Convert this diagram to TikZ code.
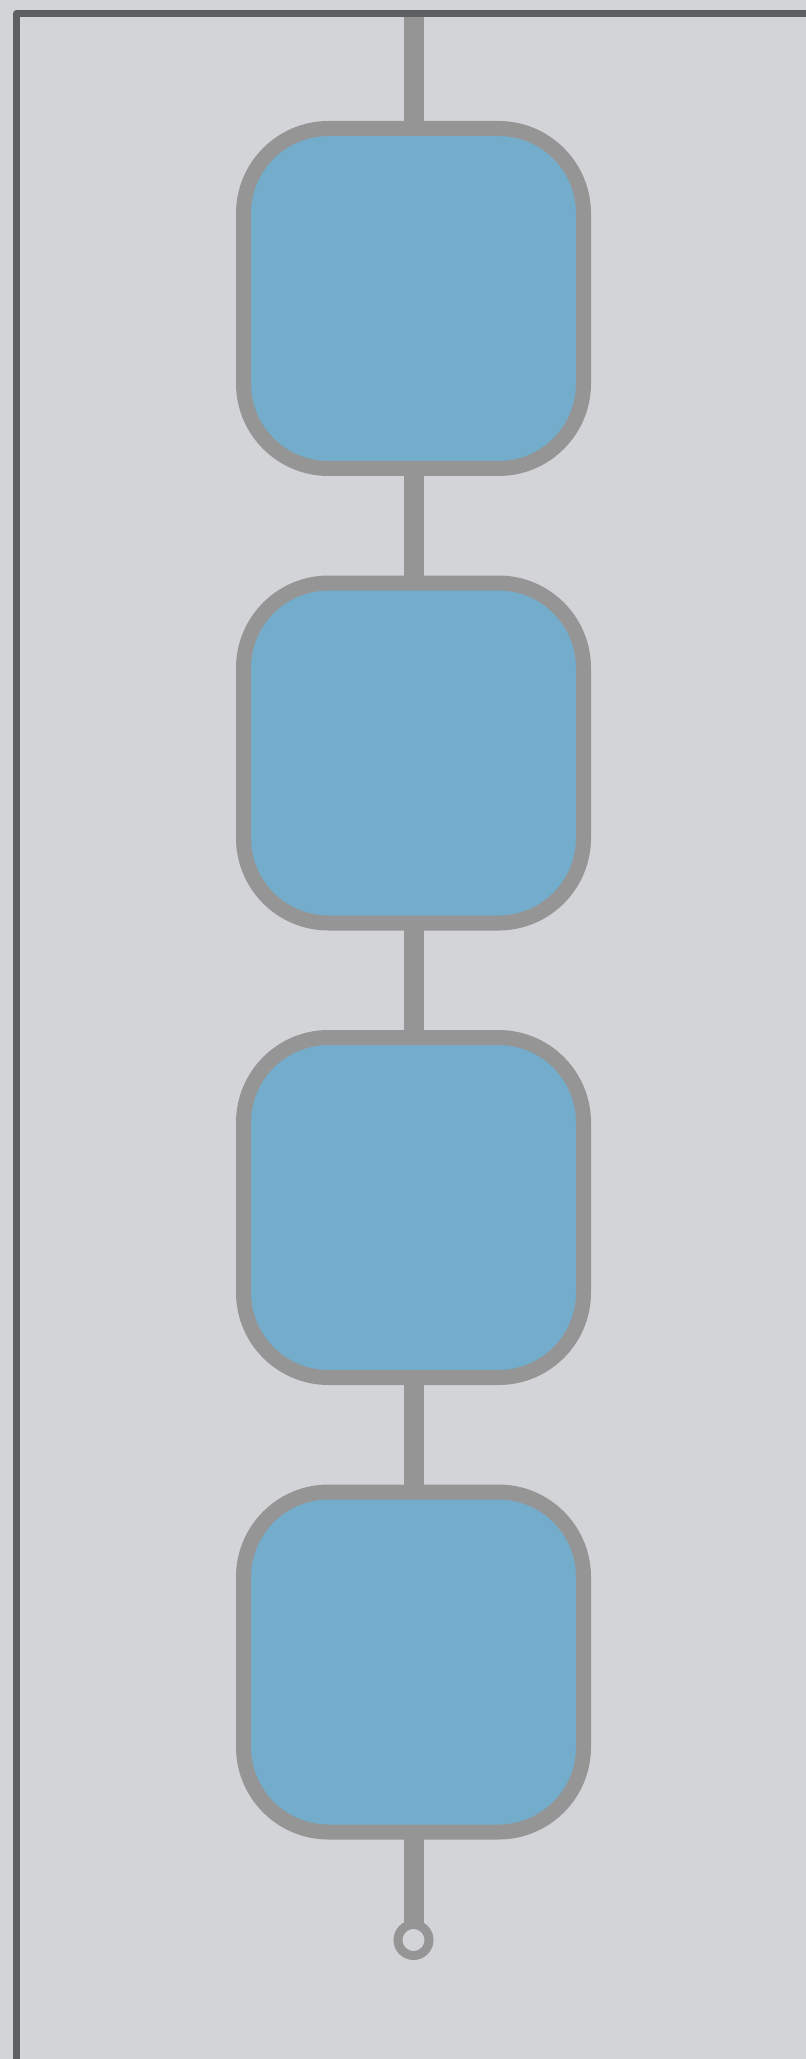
\documentclass[tikz,border=0pt]{standalone}
\usepackage{tikz}
\usetikzlibrary{positioning}
\definecolor{bg}{HTML}{D3D4D8}
\definecolor{edgegray}{HTML}{959595}
\definecolor{blockfill}{HTML}{73ADCB}
\definecolor{framegray}{HTML}{5E5F60}
\tikzset{
  >=latex,
}
\tikzstyle{block}=[rectangle,rounded corners=42.5pt,minimum width=170pt,minimum height=170pt,inner sep=0pt,outer sep=0pt,draw=edgegray,line width=7.5pt,fill=blockfill]
\tikzstyle{link}=[draw=edgegray,line width=10pt]
\tikzstyle{frame}=[draw=framegray,line width=3.25pt,line join=round]
\tikzstyle{terminal}=[circle,minimum size=15.5pt,inner sep=0pt,outer sep=0pt,draw=edgegray,line width=4.5pt,fill=bg]

\begin{document}
\begin{tikzpicture}[x=0.5pt,y=-0.5pt,node distance=57.25pt]
        \fill[bg] (0,0) rectangle (806,2059);
        \useasboundingbox (0,0) rectangle (806,2059);
        \coordinate (top) at (413.5,13.3);
        \node[block] (b1) at (413.5,298.5) {};
        \node[block,below=of b1] (b2) {};
        \node[block,below=of b2] (b3) {};
        \node[block,below=of b3] (b4) {};
        \node[terminal] (end) at (413.5,1940) {};
        \draw[link] (top)--(b1.north);
        \draw[link] (b1.south)--(b2.north);
        \draw[link] (b2.south)--(b3.north);
        \draw[link] (b3.south)--(b4.north);
        \draw[link] (b4.south)--(end.north);
        \draw[frame] (16.5,2059)--(16.5,13.3)--(806,13.3);
      \end{tikzpicture}
\end{document}
